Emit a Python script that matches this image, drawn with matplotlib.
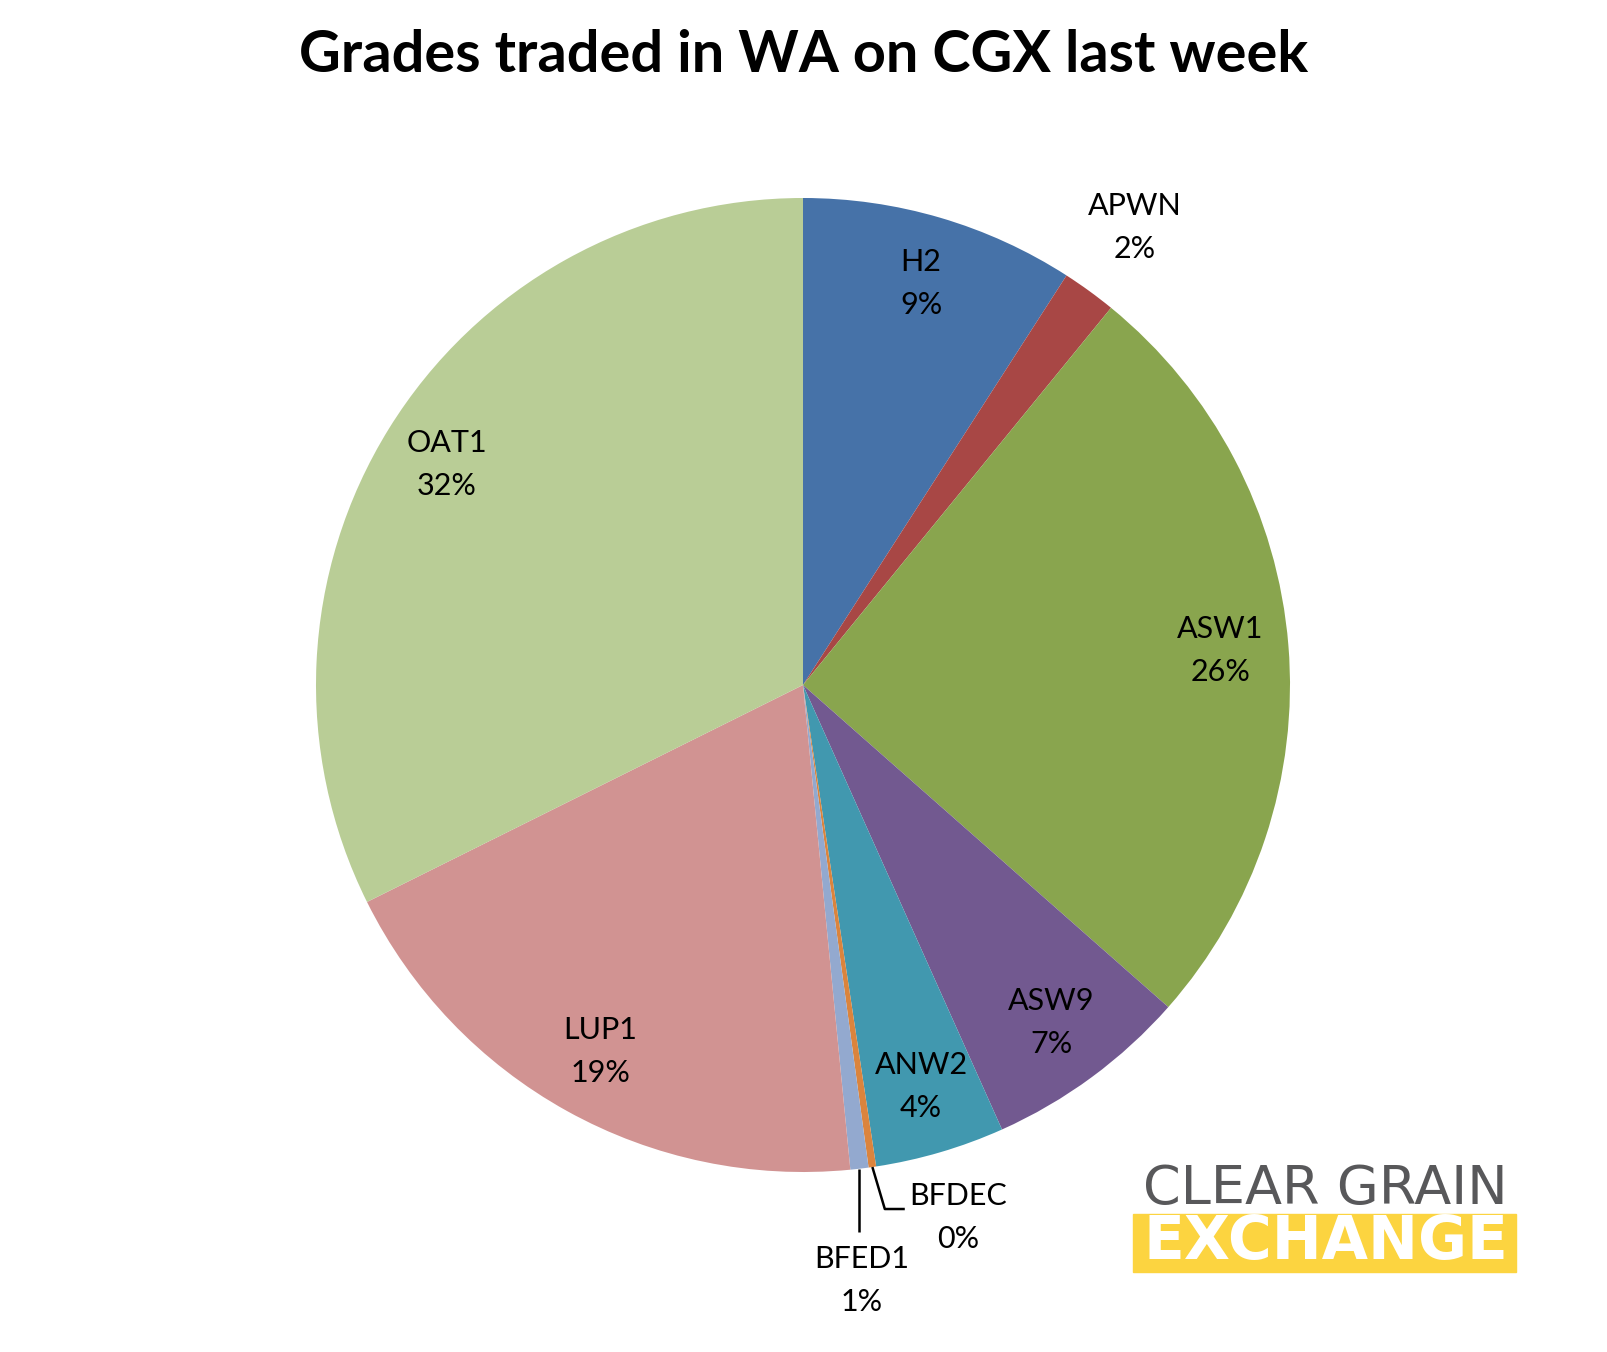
import numpy as np
import matplotlib
matplotlib.use('Agg')
import matplotlib.pyplot as plt
from matplotlib.patches import Rectangle

# --- data (share of volume traded, %) ---
grades = ['H2', 'APWN', 'ASW1', 'ASW9', 'ANW2', 'BFDEC', 'BFED1', 'LUP1', 'OAT1']
shares = [9.1, 1.8, 25.6, 6.8, 4.3, 0.25, 0.6, 19.2, 32.35]
colours = ['#4672A8', '#A84745', '#89A54E', '#725990', '#4198AF',
           '#DB843D', '#93A9CF', '#D19392', '#B9CD96']

plt.rcParams['font.family'] = ['Lato', 'DejaVu Sans']

fig = plt.figure(figsize=(16.08, 13.52), dpi=100)

# pie axes: centre (803,685) px, radius ~487 px
cx, cy, r = 803 / 1608, 1 - 685 / 1352, 487
ax = fig.add_axes([cx - r / 1608, cy - r / 1352, 2 * r / 1608, 2 * r / 1352])
wedges, _ = ax.pie(shares, colors=colours, startangle=90, counterclock=False,
                   radius=1.0, wedgeprops=dict(linewidth=0))
ax.set_xlim(-1, 1)
ax.set_ylim(-1, 1)
ax.set_aspect('equal')
ax.axis('off')

total = sum(shares)
lab_fs = 22
lsp = 1.65
for w, name, v in zip(wedges, grades, shares):
    txt = f"{name}\n{v / total * 100:.0f}%"
    mid = np.deg2rad((w.theta1 + w.theta2) / 2)
    ex, ey = np.cos(mid), np.sin(mid)
    if name == 'APWN':
        ax.text(1.16 * ex, 1.16 * ey, txt, ha='center', va='center',
                fontsize=lab_fs, linespacing=lsp, clip_on=False)
    elif name == 'BFDEC':
        # leader line with elbow
        ax.plot([ex, 0.168, 0.209], [ey, -1.076, -1.076], color='black', lw=1.8,
                clip_on=False, solid_capstyle='butt')
        ax.text(0.318, -1.094, txt, ha='center', va='center',
                fontsize=lab_fs, linespacing=lsp, clip_on=False)
    elif name == 'BFED1':
        ax.plot([ex, ex], [ey, -1.123], color='black', lw=1.8, clip_on=False,
                solid_capstyle='butt')
        ax.text(0.12, -1.222, txt, ha='center', va='center',
                fontsize=lab_fs, linespacing=lsp, clip_on=False)
    else:
        ax.text(0.86 * ex, 0.86 * ey, txt, ha='center', va='center',
                fontsize=lab_fs, linespacing=lsp)

fig.text(0.5, 1 - 55 / 1352, 'Grades traded in WA on CGX last week',
         ha='center', va='center', fontsize=41.5, fontweight='bold')

# --- logo ---
fig.patches.append(Rectangle((1133 / 1608, 1 - 1272 / 1352), 383 / 1608, 58 / 1352,
                             transform=fig.transFigure, color='#FCD440', zorder=1))
fig.text(1325 / 1608, 1 - 1189 / 1352, 'CLEAR GRAIN', ha='center', va='center',
         fontsize=39, color='#58585A', family=['DejaVu Sans'])
fig.text(1326 / 1608, 1 - 1243 / 1352, 'EXCHANGE', ha='center', va='center',
         fontsize=43, fontweight='bold', color='white', zorder=2,
         family=['DejaVu Sans'])

fig.savefig('out.png', dpi=100, facecolor='white')
